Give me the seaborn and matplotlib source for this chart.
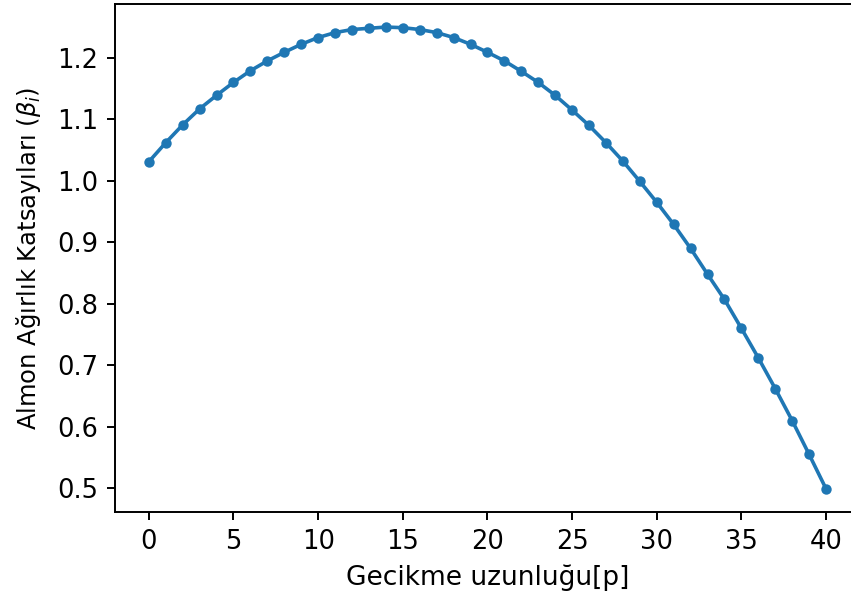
import pandas as pd
import matplotlib
matplotlib.use("Agg")
import matplotlib.pyplot as plt
import seaborn as sns

# lag lengths and estimated Almon weights
lags = list(range(41))
weights = [1.031, 1.062, 1.091, 1.117, 1.139, 1.160, 1.179, 1.195, 1.209, 1.222,
           1.233, 1.241, 1.246, 1.248, 1.250, 1.249, 1.246, 1.241, 1.233, 1.222,
           1.209, 1.195, 1.178, 1.160, 1.139, 1.115, 1.090, 1.062, 1.032, 0.999,
           0.965, 0.929, 0.890, 0.848, 0.807, 0.760, 0.712, 0.662, 0.610, 0.555,
           0.499]

df = pd.DataFrame({"lag": lags, "beta": weights})

fig = plt.figure(figsize=(8.51, 6.02), dpi=100)
ax = fig.add_axes([0.1351, 0.1495, 0.8754, 0.8439])

sns.lineplot(
    data = df,
    x = "lag",
    y = "beta",
    marker = "o",
    markersize = 7.5,
    markeredgewidth = 0,
    linewidth = 2.6,
    color = "#1f77b4",
    ax = ax
    )

ax.set_xticks(range(0, 41, 5))
ax.set_yticks([0.5, 0.6, 0.7, 0.8, 0.9, 1.0, 1.1, 1.2])
ax.tick_params(labelsize=18.5, width=1.4, length=6, pad=6)
for s in ax.spines.values():
    s.set_linewidth(1.4)
ax.set_xlabel("Gecikme uzunluğu[p]", fontsize=19, labelpad=7)
ax.set_ylabel(r"Almon Ağırlık Katsayıları ($\beta_i$)", fontsize=17.5, labelpad=10)

fig.savefig("out.png", dpi=100)
